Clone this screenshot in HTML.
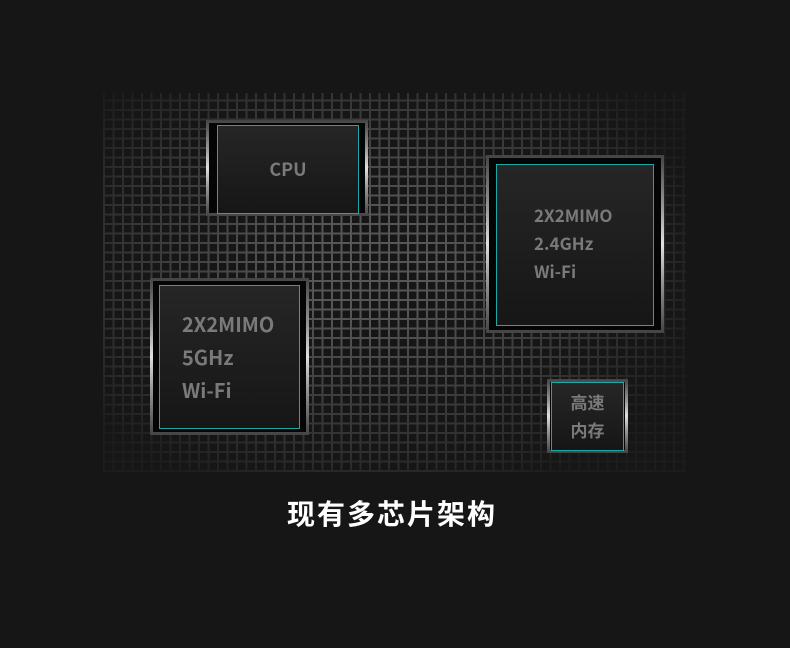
<!DOCTYPE html>
<html><head><meta charset="utf-8"><style>
body{margin:0;width:790px;height:648px;background:#161616;overflow:hidden;position:relative;font-family:"Noto Sans CJK SC","Liberation Sans",sans-serif}
.grid{position:absolute;left:103px;top:93px;width:583px;height:379px;
background-image:repeating-linear-gradient(90deg,#5a5a5a 0 2px,transparent 2px 9.5px),repeating-linear-gradient(0deg,#5a5a5a 0 2px,transparent 2px 9.5px);
-webkit-mask-image:radial-gradient(ellipse 60% 65% at 45% 45%,rgba(0,0,0,.95) 20%,rgba(0,0,0,.45) 70%,rgba(0,0,0,.1) 100%);
mask-image:radial-gradient(ellipse 60% 65% at 45% 45%,rgba(0,0,0,.95) 20%,rgba(0,0,0,.45) 70%,rgba(0,0,0,.1) 100%)}
.o{position:absolute;box-sizing:border-box;background:linear-gradient(180deg,#444,#999 30%,#e0e0e0 50%,#999 70%,#444)}
.o::after{content:"";position:absolute;left:3px;top:3px;right:3px;bottom:3px;background:#050505}
.i{position:absolute;box-sizing:border-box;border:1px solid #19a9a6;background:linear-gradient(#262626,#161616);color:#7a7a7a;font-weight:bold}
.t{position:absolute;left:0;right:0;top:493px;text-align:center;color:#fff;font-size:28px;font-weight:bold;letter-spacing:2px;padding-right:6px}
</style></head><body>
<div class="grid"></div>
<div class="o" style="left:206px;top:120px;width:162px;height:96px"></div>
<div class="i" style="left:217px;top:125px;width:142px;height:89px;text-align:center;line-height:86px;font-size:18px">CPU</div>
<div class="o" style="left:486px;top:155px;width:178px;height:178px"></div>
<div class="i" style="left:496px;top:164px;width:158px;height:162px;font-size:17px;line-height:28px;padding:36px 0 0 37px">2X2MIMO<br>2.4GHz<br>Wi-Fi</div>
<div class="o" style="left:150px;top:278px;width:159px;height:157px"></div>
<div class="i" style="left:159px;top:285px;width:141px;height:144px;font-size:20px;line-height:33px;padding:21px 0 0 22px">2X2MIMO<br>5GHz<br>Wi-Fi</div>
<div class="o" style="left:547px;top:379px;width:81px;height:74px"></div>
<div class="i" style="left:551px;top:382px;width:73px;height:69px;text-align:center;font-size:17px;line-height:28px;padding-top:5px">高速<br>内存</div>
<div class="t">现有多芯片架构</div>
</body></html>
